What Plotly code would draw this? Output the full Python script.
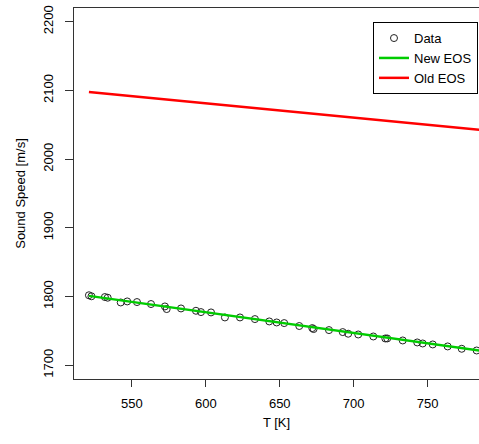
import plotly.graph_objects as go

# Measured data points
T_data = [520.9, 522.6, 531.7, 533.6, 542.4, 546.8, 553.4, 562.9, 572.3, 573.5,
          583.2, 593.3, 596.7, 603.5, 612.9, 623.1, 633.2, 642.9, 647.9, 653.0,
          663.2, 672.0, 672.9, 683.3, 692.6, 696.3, 703.1, 713.3, 721.4, 722.7,
          733.2, 743.0, 746.7, 753.5, 763.6, 773.1, 783.2]
c_data = [1801.9, 1800.4, 1799.3, 1798.3, 1791.4, 1792.9, 1792.0, 1789.1, 1785.6, 1781.8,
          1782.7, 1779.3, 1777.4, 1776.9, 1769.6, 1769.6, 1767.2, 1763.8, 1762.3, 1761.4,
          1757.1, 1754.1, 1752.7, 1751.2, 1748.3, 1745.9, 1744.8, 1741.9, 1739.0, 1739.0,
          1736.1, 1733.2, 1731.7, 1730.3, 1727.4, 1724.0, 1721.5]

# EOS model lines
T_line = [520.9, 785.0]
c_new = [1801.0, 1721.5]
c_old = [2097.7, 2042.8]

x_ticks = [550, 600, 650, 700, 750]
y_ticks = [1700, 1800, 1900, 2000, 2100, 2200]

FONT = "Liberation Sans, Arial, Helvetica, sans-serif"

fig = go.Figure()
fig.add_trace(go.Scatter(
    x=T_data, y=c_data, mode="markers", name="Data",
    marker=dict(symbol="circle-open", size=7, color="#222222", line=dict(width=1)),
))
fig.add_trace(go.Scatter(
    x=T_line, y=c_new, mode="lines", name="New EOS",
    line=dict(color="#00cc00", width=2.5),
))
fig.add_trace(go.Scatter(
    x=T_line, y=c_old, mode="lines", name="Old EOS",
    line=dict(color="#ff0000", width=2.5),
))

fig.update_layout(
    width=479, height=444,
    margin=dict(l=74, r=0, t=8, b=65),
    paper_bgcolor="white", plot_bgcolor="white",
    font=dict(family=FONT, size=13, color="black"),
    showlegend=True,
    legend=dict(
        x=0.9975, y=0.962, xanchor="right", yanchor="top",
        bordercolor="black", borderwidth=1, bgcolor="white",
        font=dict(family=FONT, size=13), tracegroupgap=0,
        itemwidth=30,
    ),
    xaxis=dict(
        range=[510.8, 784.8], tickvals=x_ticks, ticks="outside", ticklen=7,
        tickcolor="#333", showline=True, linecolor="#333", linewidth=1, mirror=True,
        showgrid=False, zeroline=False, ticklabelstandoff=5,
        tickfont=dict(family=FONT, size=13),
        title=dict(text="T [K]", standoff=8, font=dict(family=FONT, size=13)),
    ),
    yaxis=dict(
        range=[1680, 2220], tickvals=y_ticks, ticks="outside", ticklen=8,
        tickcolor="#333", showline=True, linecolor="#333", linewidth=1, mirror=False,
        showgrid=False, zeroline=False, tickangle=-90, ticklabelstandoff=7,
        tickfont=dict(family=FONT, size=13),
        title=dict(text="Sound Speed [m/s]", standoff=12, font=dict(family=FONT, size=13)),
    ),
)

fig.write_html("out.html")
